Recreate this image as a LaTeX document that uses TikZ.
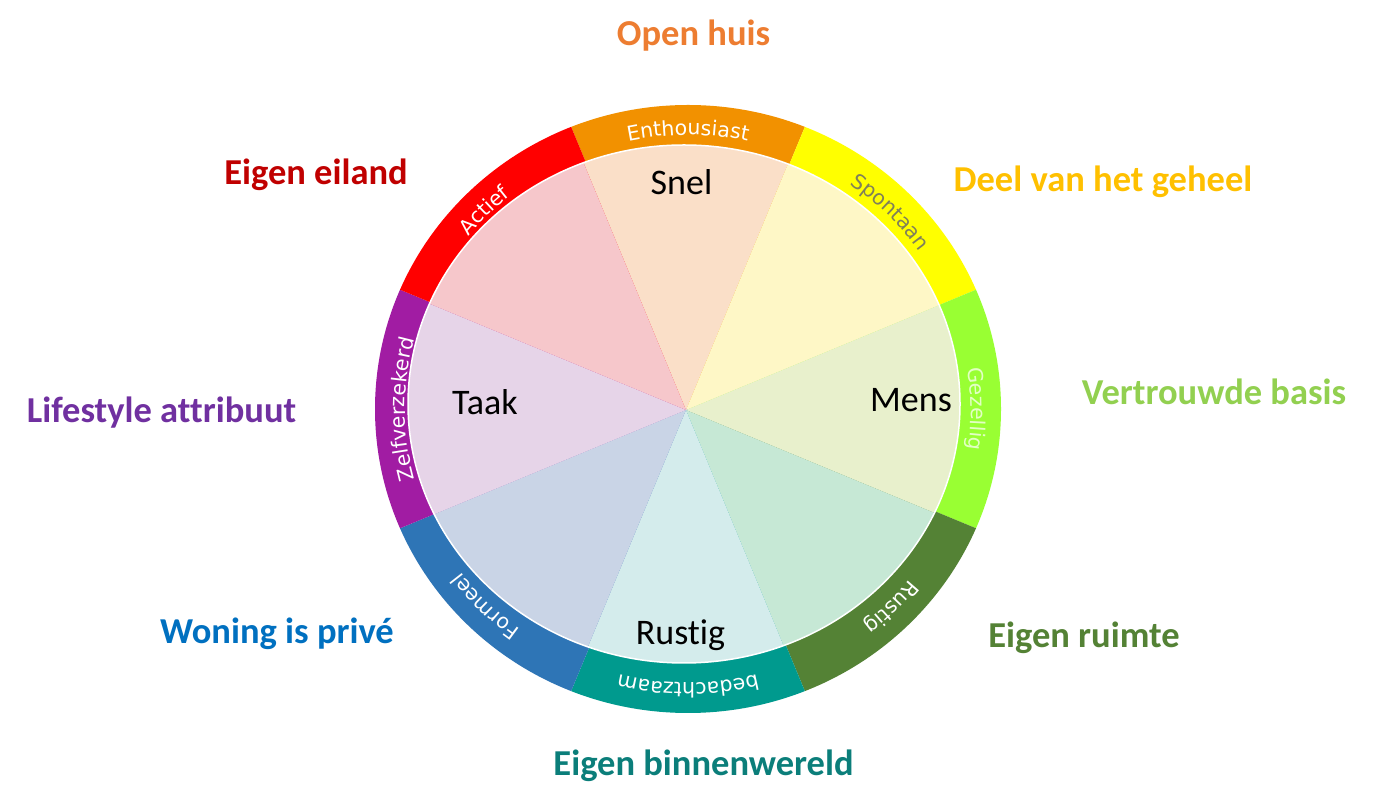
\documentclass[tikz,border=0pt]{standalone}
\usepackage{fontspec}
\setmainfont{Carlito}[Ligatures=NoCommon]
\newfontfamily\ringfont{DejaVu Sans}
\usetikzlibrary{decorations.text}
% ring colours
\definecolor{rOrange}{HTML}{F29100}
\definecolor{rYellow}{HTML}{FFFF00}
\definecolor{rLime}{HTML}{99FF33}
\definecolor{rDkGreen}{HTML}{548235}
\definecolor{rTeal}{HTML}{009A8E}
\definecolor{rBlue}{HTML}{2E75B6}
\definecolor{rPurple}{HTML}{A11CA3}
\definecolor{rRed}{HTML}{FF0000}
% inner pie colours
\definecolor{pPeach}{HTML}{FADFC8}
\definecolor{pYellow}{HTML}{FEF7C6}
\definecolor{pMens}{HTML}{E8F0CC}
\definecolor{pGreen}{HTML}{C6E8D5}
\definecolor{pCyan}{HTML}{D4ECEC}
\definecolor{pBlue}{HTML}{C9D4E6}
\definecolor{pLav}{HTML}{E6D4E8}
\definecolor{pPink}{HTML}{F6C7CB}
% label colours
\definecolor{lOpen}{HTML}{ED7D31}
\definecolor{lEiland}{HTML}{C00000}
\definecolor{lDeel}{HTML}{FFC000}
\definecolor{lLife}{HTML}{7030A0}
\definecolor{lVertr}{HTML}{92D050}
\definecolor{lWoning}{HTML}{0070C0}
\definecolor{lRuimte}{HTML}{548235}
\definecolor{lBinnen}{HTML}{0B7E7A}
\definecolor{tSpont}{HTML}{80805A}
\definecolor{tGez}{HTML}{E2FFC4}
\tikzset{
  outerlbl/.style={font=\bfseries\fontsize{36.5}{40}\selectfont, inner sep=0pt, anchor=base},
  innerlbl/.style={font=\fontsize{36}{40}\selectfont, text=black, inner sep=0pt, anchor=base},
}
\newcommand\ringlabel[3]{%
  \path[decorate, decoration={text along path, text align=center,
      text={|\ringfont\fontsize{20.5}{24}\selectfont\color{#2}|#3}}]
    (rc) ++({#1+22.5}:283 and 274)
    arc[start angle={#1+22.5}, end angle={#1-22.5}, x radius=283, y radius=274];}
\begin{document}
\begin{tikzpicture}[x=1pt,y=1pt]
\useasboundingbox (0,0) rectangle (1373,811);
\fill[white] (0,0) rectangle (1373,811);
% ring
\coordinate (rc) at (688,402);
\begin{scope}
  \clip (rc) ellipse [x radius=313, y radius=304];
  \foreach \a/\c in {90/rOrange, 45/rYellow, 0/rLime, -45/rDkGreen, -90/rTeal, -135/rBlue, 180/rPurple, 135/rRed}
    \fill[\c] (rc) -- +(\a-22.5:520) -- +(\a+22.5:520) -- cycle;
\end{scope}
% inner pie
\coordinate (pc) at (684,407);
\coordinate (wc) at (686,401);
\begin{scope}
  \clip (pc) ellipse [x radius=276, y radius=259];
  \foreach \a/\c in {90/pPeach, 45/pYellow, 0/pMens, -45/pGreen, -90/pCyan, -135/pBlue, 180/pLav, 135/pPink}
    \fill[\c] (wc) -- +(\a-22.5:520) -- +(\a+22.5:520) -- cycle;
\end{scope}
\draw[white, line width=1.5pt] (pc) ellipse [x radius=276, y radius=259];
% ring labels
\ringlabel{90}{white}{Enthousiast}
\ringlabel{45}{tSpont}{Spontaan}
\ringlabel{0}{tGez}{Gezellig}
\ringlabel{-45}{white}{Rustig}
\ringlabel{-90}{white}{bedachtzaam}
\ringlabel{-135}{white}{Formeel}
\ringlabel{180}{white}{Zelfverzekerd}
\ringlabel{135}{white}{Actief}
% inner labels
\node[innerlbl] (snel) at (681.5,616) {Snel};
\node[innerlbl] (taak) at (485,396) {Taak};
\node[innerlbl] (mens) at (911,399) {Mens};
\node[innerlbl] (rustig) at (680.5,166) {Rustig};
% outer labels
\node[outerlbl, text=lOpen] (openhuis) at (693.5,765) {Open huis};
\node[outerlbl, text=lEiland] (eiland) at (316,626) {Eigen eiland};
\node[outerlbl, text=lDeel] (deel) at (1103,619) {Deel van het geheel};
\node[outerlbl, text=lLife] (life) at (161.5,388) {Lifestyle attribuut};
\node[outerlbl, text=lVertr] (vertr) at (1214,406) {Vertrouwde basis};
\node[outerlbl, text=lWoning] (woning) at (277,167) {Woning is privé};
\node[outerlbl, text=lRuimte] (ruimte) at (1084,163) {Eigen ruimte};
\node[outerlbl, text=lBinnen] (binnen) at (703.5,35) {Eigen binnenwereld};
\end{tikzpicture}
\end{document}
